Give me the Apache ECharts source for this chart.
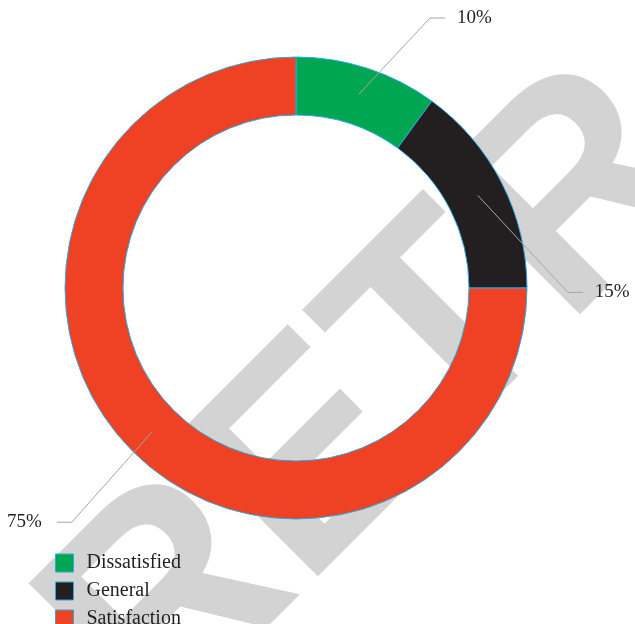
<!DOCTYPE html>
<html>
<head>
<meta charset="utf-8">
<script src="https://cdn.jsdelivr.net/npm/echarts@6/dist/echarts.min.js"></script>
<style>
  html, body { margin: 0; padding: 0; background: #fff; }
  #main { width: 635px; height: 624px; }
</style>
</head>
<body>
<div id="main"></div>
<script>
var categories = ['Dissatisfied', 'General', 'Satisfaction'];
var values = [10, 15, 75];
var colors = ['#00a651', '#231f20', '#ef4123'];

// leader line bends, relative to where the line leaves the ring
var bends = [[71, -76, 15], [90, 97, 15], [-80, 90, -15]];

var chart = echarts.init(document.getElementById('main'));

var ringData = categories.map(function (c, i) {
  return { name: c, value: values[i], itemStyle: { color: colors[i] } };
});
var labelData = categories.map(function (c, i) {
  return { name: c, value: values[i] };
});

chart.setOption({
  animation: false,
  textStyle: { fontFamily: 'Liberation Serif' },
  graphic: [{
    type: 'text',
    z: -10,
    x: 202, y: 784,
    rotation: Math.PI / 4,
    style: {
      text: 'RETRACTED',
      font: 'bold 290px "Liberation Sans"',
      fill: '#d3d3d3',
      textVerticalAlign: 'bottom'
    },
    silent: true
  }],
  legend: {
    orient: 'vertical',
    left: 55, top: 553,
    padding: 0,
    height: 80,
    itemWidth: 18, itemHeight: 18, itemGap: 8,
    icon: 'rect',
    itemStyle: { borderColor: '#29abe2', borderWidth: 1 },
    textStyle: { fontFamily: 'Liberation Serif', fontSize: 20, lineHeight: 18, color: '#231f20', padding: [0, 0, 0, 8] },
    data: categories
  },
  series: [{
    type: 'pie',
    z: 2,
    center: [296, 288],
    radius: [173, 231],
    startAngle: 90,
    label: { show: false },
    labelLine: { show: false },
    itemStyle: { borderColor: '#29abe2', borderWidth: 1 },
    emphasis: { disabled: true },
    data: ringData
  }, {
    type: 'pie',
    z: 5,
    center: [296, 288],
    radius: [0, 204],
    startAngle: 90,
    silent: true,
    legendHoverLink: false,
    itemStyle: { color: 'rgba(0,0,0,0)', borderWidth: 0 },
    label: {
      show: true,
      formatter: '{c}%',
      fontFamily: 'Liberation Serif',
      fontSize: 19,
      color: '#231f20'
    },
    labelLine: { show: true, lineStyle: { color: '#a6a6a6', width: 1 } },
    labelLayout: function (p) {
      var s = p.labelLinePoints[0];
      var b = bends[p.dataIndex];
      var elbow = [s[0] + b[0], s[1] + b[1]];
      var end = [elbow[0] + b[2], elbow[1]];
      var right = b[2] > 0;
      return {
        x: right ? end[0] + 12 : end[0] - 15,
        y: end[1],
        align: right ? 'left' : 'right',
        verticalAlign: 'middle',
        labelLinePoints: [s, elbow, end]
      };
    },
    data: labelData
  }]
});
</script>
</body>
</html>
